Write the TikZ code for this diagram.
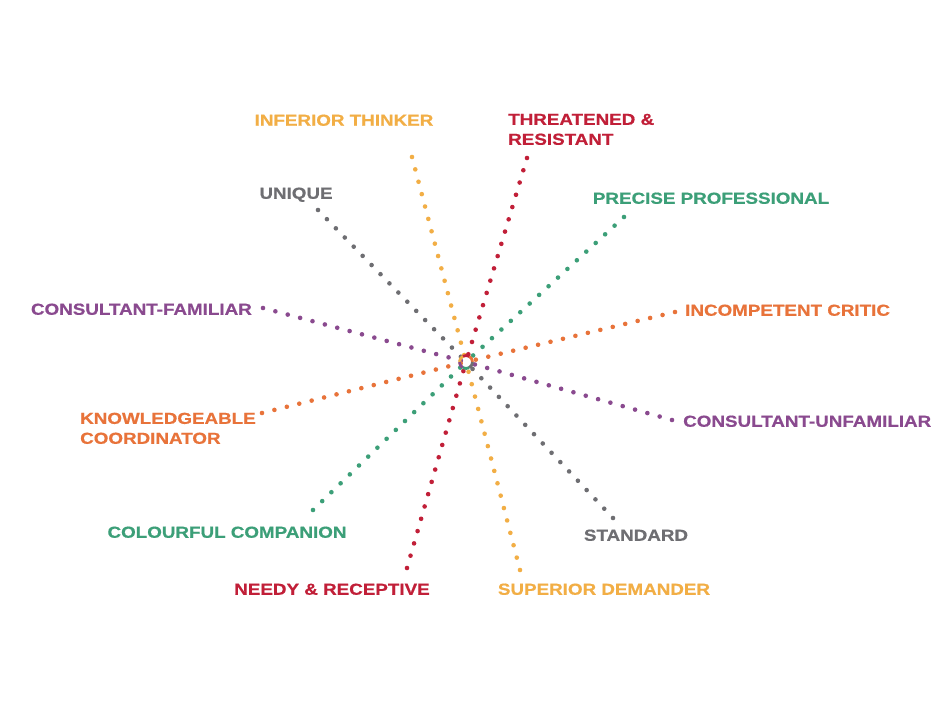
\documentclass[tikz,border=0pt]{standalone}
\usepackage{fontspec}
\setmainfont{Liberation Sans}[FakeStretch=1.18,BoldFeatures={FakeBold=0.6}]
\begin{document}
\definecolor{cyellow}{HTML}{F2AE45}
\definecolor{cred}{HTML}{C11F38}
\definecolor{cgreen}{HTML}{3C9F78}
\definecolor{corange}{HTML}{E8733A}
\definecolor{cpurple}{HTML}{8A4A8F}
\definecolor{cgrey}{HTML}{6E6E72}
\begin{tikzpicture}[x=1bp,y=-1bp,
  lbl/.style={inner sep=0pt,font=\fontsize{16}{20}\selectfont\bfseries,text height=11.5bp,text depth=0pt},
  dots/.style={line width=4.6bp,line cap=round,dash pattern=on 0pt off 12.8bp}]
\useasboundingbox (0,0) rectangle (935,702);
\fill[white] (0,0) rectangle (935,702);

% hub and spoke ends
\coordinate (c) at (466,362);
\coordinate (it) at (412,157);  \coordinate (sd) at (520,570);
\coordinate (tr) at (527,158);  \coordinate (nr) at (407,568);
\coordinate (pp) at (624,217);  \coordinate (cc) at (313,510);
\coordinate (ic) at (675,312);  \coordinate (kc) at (262,413);
\coordinate (cf) at (263,308);  \coordinate (cu) at (672,420);
\coordinate (un) at (318,210);  \coordinate (st) at (613,518);

% dotted spokes, drawn from each outer end toward the hub
\draw[dots,cgrey]   (un) -- (c); \draw[dots,cgrey]   (st) -- (c);
\draw[dots,cpurple] (cf) -- (c); \draw[dots,cpurple] (cu) -- (c);
\draw[dots,corange] (ic) -- (c); \draw[dots,corange] (kc) -- (c);
\draw[dots,cgreen]  (pp) -- (c); \draw[dots,cgreen]  (cc) -- (c);
\draw[dots,cred]    (tr) -- (c); \draw[dots,cred]    (nr) -- (c);
\draw[dots,cyellow] (it) -- (c); \draw[dots,cyellow] (sd) -- (c);

% multicoloured ring at the hub
\foreach \a/\col in {0/corange,60/cred,120/cyellow,180/cpurple,240/cgreen,300/cgrey}
  \draw[\col,line width=2.8bp] ([shift={(\a:6.5bp)}]c) arc[start angle=\a,end angle=\a+60,radius=6.5bp];
\fill[white] (c) circle (3.2bp);

% labels (two-line labels are placed by the baseline of their last line)
\node[lbl,text=cyellow] (lit) at (344,120) {INFERIOR THINKER};
\node[lbl,text=cred,anchor=base west,align=left] (ltr) at (508,144.8) {THREATENED \&\\RESISTANT};
\node[lbl,text=cgrey] (lun) at (296,193) {UNIQUE};
\node[lbl,text=cgreen] (lpp) at (711,198) {PRECISE PROFESSIONAL};
\node[lbl,text=cpurple,anchor=east] (lcf) at (252,309) {CONSULTANT-FAMILIAR};
\node[lbl,text=corange,anchor=west] (lic) at (685,310) {INCOMPETENT CRITIC};
\node[lbl,text=corange,anchor=base west,align=left] (lkc) at (80,443.8) {KNOWLEDGEABLE\\COORDINATOR};
\node[lbl,text=cpurple,anchor=west] (lcu) at (683,421) {CONSULTANT-UNFAMILIAR};
\node[lbl,text=cgreen] (lcc) at (227,532) {COLOURFUL COMPANION};
\node[lbl,text=cgrey] (lst) at (636,535) {STANDARD};
\node[lbl,text=cred] (lnr) at (332,589) {NEEDY \& RECEPTIVE};
\node[lbl,text=cyellow] (lsd) at (604,589) {SUPERIOR DEMANDER};
\end{tikzpicture}
\end{document}
